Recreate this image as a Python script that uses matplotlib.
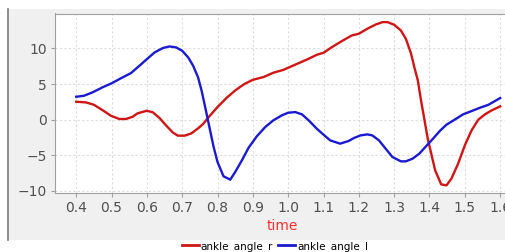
import matplotlib
matplotlib.use("Agg")
import matplotlib.pyplot as plt
from matplotlib.patches import Rectangle
from matplotlib.lines import Line2D

# ankle_angle_r (red)
t_r = [0.400, 0.427, 0.450, 0.474, 0.498, 0.522, 0.541, 0.560, 0.574, 0.600,
       0.617, 0.636, 0.655, 0.674, 0.688, 0.707, 0.726, 0.745, 0.759, 0.775,
       0.800, 0.826, 0.850, 0.874, 0.900, 0.930, 0.958, 0.987, 1.000, 1.030,
       1.058, 1.081, 1.100, 1.124, 1.152, 1.180, 1.200, 1.224, 1.248, 1.267,
       1.281, 1.300, 1.319, 1.333, 1.348, 1.357, 1.367, 1.376, 1.386, 1.395,
       1.405, 1.416, 1.433, 1.448, 1.462, 1.481, 1.500, 1.519, 1.538, 1.557,
       1.576, 1.600]
ankle_r = [2.52, 2.43, 2.10, 1.36, 0.56, 0.10, 0.10, 0.42, 0.90, 1.26,
           1.03, 0.23, -0.84, -1.82, -2.24, -2.24, -1.92, -1.21, -0.61, 0.37,
           1.78, 3.08, 4.10, 4.95, 5.60, 5.98, 6.59, 7.00, 7.29, 7.94,
           8.55, 9.11, 9.39, 10.19, 11.03, 11.82, 12.06, 12.76, 13.36, 13.69,
           13.69, 13.32, 12.52, 11.36, 9.25, 7.38, 5.51, 2.71, -0.09, -2.66,
           -4.77, -7.10, -9.07, -9.21, -8.27, -6.17, -3.60, -1.50, 0.00, 0.75,
           1.31, 1.87]

# ankle_angle_l (blue)
t_l = [0.400, 0.422, 0.446, 0.474, 0.500, 0.526, 0.555, 0.579, 0.600, 0.622,
       0.645, 0.664, 0.683, 0.700, 0.717, 0.731, 0.745, 0.755, 0.765, 0.775,
       0.789, 0.800, 0.817, 0.836, 0.850, 0.869, 0.888, 0.911, 0.935, 0.958,
       0.982, 1.000, 1.020, 1.039, 1.058, 1.081, 1.100, 1.119, 1.147, 1.171,
       1.186, 1.205, 1.224, 1.238, 1.257, 1.276, 1.295, 1.319, 1.333, 1.352,
       1.371, 1.390, 1.410, 1.429, 1.448, 1.471, 1.495, 1.519, 1.543, 1.567,
       1.600]
ankle_l = [3.22, 3.36, 3.83, 4.53, 5.10, 5.80, 6.54, 7.57, 8.50, 9.44,
           10.05, 10.28, 10.14, 9.67, 8.74, 7.57, 5.93, 4.07, 1.78, -0.56,
           -3.83, -5.93, -7.94, -8.41, -7.34, -5.70, -3.93, -2.34, -1.03, -0.09,
           0.61, 0.98, 1.07, 0.75, -0.09, -1.26, -2.10, -2.90, -3.36, -2.99,
           -2.57, -2.20, -2.06, -2.20, -2.90, -4.07, -5.23, -5.84, -5.84, -5.47,
           -4.77, -3.74, -2.66, -1.59, -0.70, 0.00, 0.75, 1.21, 1.68, 2.10,
           3.04]

xticks = [0.4, 0.5, 0.6, 0.7, 0.8, 0.9, 1.0, 1.1, 1.2, 1.3, 1.4, 1.5, 1.6]
yticks = [-10, -5, 0, 5, 10]

RED = "#d01515"
BLUE = "#1a1ad0"
W, H = 505, 252

fig = plt.figure(figsize=(W / 100, H / 100), dpi=100)
fig.patch.set_facecolor("white")

# grey panel behind the plot
fig.add_artist(Rectangle((8 / W, 1 - 240 / H), 1, (240 - 9) / H,
                         transform=fig.transFigure, facecolor="#f0f0f0",
                         edgecolor="none", zorder=-10))
fig.add_artist(Line2D([8 / W, 8 / W], [1 - 240 / H, 1 - 9 / H],
                      transform=fig.transFigure, color="#7a7a7a", lw=1.2,
                      zorder=-9))

ax = fig.add_axes([55 / W, 1 - 192.7 / H, 1 - 55 / W + 0.01, (192.7 - 13.5) / H])
ax.set_facecolor("white")
ax.plot(t_r, ankle_r, color=RED, lw=1.7, solid_joinstyle="round")
ax.plot(t_l, ankle_l, color=BLUE, lw=1.7, solid_joinstyle="round")

ax.set_xlim(0.340, 1.628)
ax.set_ylim(-10.24, 14.9)
ax.set_xticks(xticks)
ax.set_xticklabels([f"{v:.1f}" for v in xticks])
ax.set_yticks(yticks)
ax.grid(True, color="#dddddd", ls=(0, (2, 2)), lw=0.8)
ax.set_axisbelow(True)
for s in ["left", "bottom", "top"]:
    ax.spines[s].set_color("#a0a0a0")
ax.spines["right"].set_visible(False)
ax.tick_params(colors="#a0a0a0", labelcolor="#505050", labelsize=10,
               length=3, width=0.8, pad=3)
ax.set_xlabel("time", color="#ff3030", fontsize=10, labelpad=3)

handles = [Line2D([], [], color=RED, lw=2), Line2D([], [], color=BLUE, lw=2)]
fig.legend(handles, ["ankle_angle_r", "ankle_angle_l"], loc="center",
           bbox_to_anchor=(275 / W, 1 - 246.5 / H), ncol=2, frameon=False,
           fontsize=7.5, handlelength=1.6, handletextpad=0.2, columnspacing=0.5,
           borderpad=0)

fig.savefig("out.png", dpi=100)
